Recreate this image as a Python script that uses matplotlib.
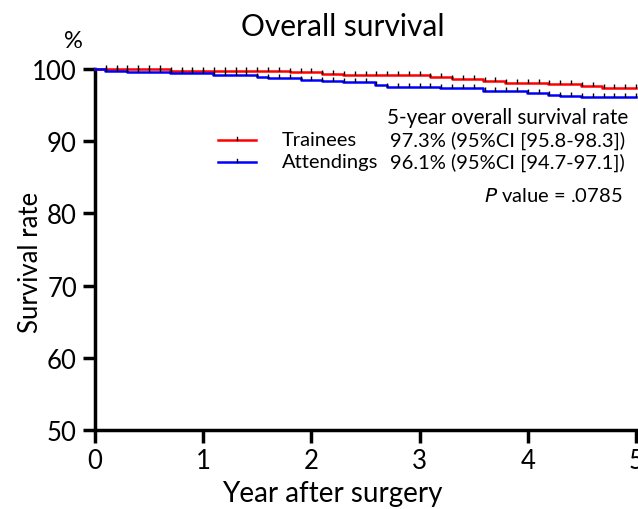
import matplotlib
matplotlib.use("Agg")
import matplotlib.pyplot as plt
import numpy as np

plt.rcParams['font.family'] = ['Lato', 'DejaVu Sans']

# Step times (years) and survival (%) after each step
trainee_t = [0.0, 0.69, 1.8, 2.1, 2.29, 3.1, 3.3, 3.59, 3.79, 4.19, 4.49, 4.69]
trainee_s = [100.0, 99.75, 99.54, 99.35, 99.17, 98.9, 98.6, 98.3, 98.06, 97.9, 97.7, 97.3]
attend_t = [0.0, 0.09, 0.3, 0.69, 1.09, 1.5, 1.6, 1.9, 2.1, 2.29, 2.59, 2.7, 3.19, 3.59, 3.79, 3.99, 4.19, 4.3, 4.49]
attend_s = [100.0, 99.77, 99.63, 99.45, 99.2, 98.9, 98.75, 98.5, 98.3, 98.15, 97.8, 97.55, 97.3, 97.0, 96.9, 96.7, 96.45, 96.3, 96.1]
censor_t = [round(0.1 * i, 1) for i in range(1, 51)]

xticks = [0, 1, 2, 3, 4, 5]
yticks = [50, 60, 70, 80, 90, 100]

W, H = 638, 510
fig = plt.figure(figsize=(W / 100, H / 100), dpi=100)
ax = fig.add_axes([95 / W, 1 - 431 / H, 541 / W, 361 / H])

def surv_at(ts, ss, x):
    idx = np.searchsorted(ts, x, side='right') - 1
    return ss[max(idx, 0)]

for ts, ss, col in [(trainee_t, trainee_s, '#ff0000'), (attend_t, attend_s, '#0000ff')]:
    xs = list(ts) + [5.0]
    ys = list(ss) + [ss[-1]]
    ax.step(xs, ys, where='post', color=col, lw=1.8, zorder=3, clip_on=False)
    cy = [surv_at(np.array(ts), ss, c) for c in censor_t]
    ax.plot(censor_t, cy, linestyle='none', marker=2, color='black',
            markersize=3.2, markeredgewidth=1.0, zorder=4, clip_on=False)

ax.set_xlim(0, 5)
ax.set_ylim(50, 100)
ax.set_xticks(xticks)
ax.set_yticks(yticks)
ax.spines['top'].set_visible(False)
ax.spines['right'].set_visible(False)
for s in ['left', 'bottom']:
    ax.spines[s].set_linewidth(2.5)
ax.tick_params(axis='both', direction='out', length=9, width=2.5, labelsize=18.5, pad=4)

fig.text(343 / W, 1 - 27 / H, 'Overall survival', ha='center', va='center', fontsize=21.5)
fig.text(73 / W, 1 - 42 / H, '%', ha='center', va='center', fontsize=17)
fig.text(30 / W, 1 - 262 / H, 'Survival rate', ha='center', va='center', rotation=90, fontsize=18.5)
fig.text(332 / W, 1 - 494 / H, 'Year after surgery', ha='center', va='center', fontsize=20)

# Legend
fs = 14.5
for yl, col, lab in [(141, '#ff0000', 'Trainees'), (163, '#0000ff', 'Attendings')]:
    fy = 1 - yl / H
    fig.add_artist(plt.Line2D([218 / W, 256 / W], [fy, fy], color=col, lw=1.8))
    fig.add_artist(plt.Line2D([237 / W, 237 / W], [fy, fy + 3.5 / H], color='black', lw=1.0))
    fig.text(282 / W, fy, lab, ha='left', va='center', fontsize=fs)

fig.text(628 / W, 1 - 118 / H, '5-year overall survival rate', ha='right', va='center', fontsize=14.9)
fig.text(625 / W, 1 - 141 / H, '97.3% (95%CI [95.8-98.3])', ha='right', va='center', fontsize=fs)
fig.text(625 / W, 1 - 163 / H, '96.1% (95%CI [94.7-97.1])', ha='right', va='center', fontsize=fs)
fig.text(622 / W, 1 - 196 / H, r'$\it{P}$ value = .0785', ha='right', va='center', fontsize=14.5)

fig.savefig('out.png', dpi=100)
